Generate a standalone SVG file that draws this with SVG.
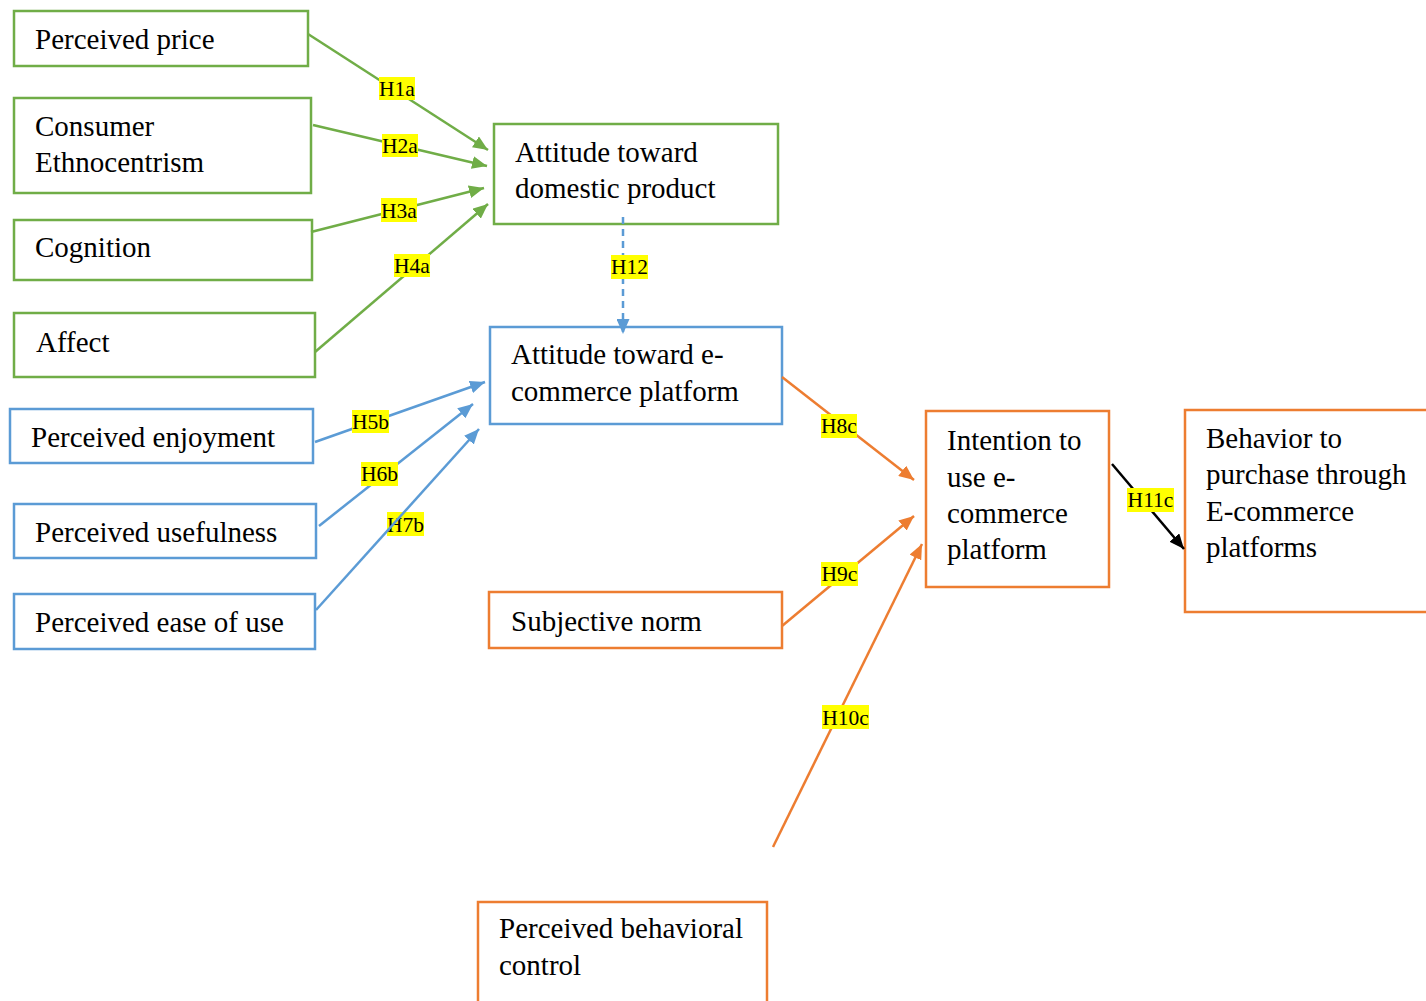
<svg xmlns="http://www.w3.org/2000/svg" width="1426" height="1001" viewBox="0 0 1426 1001">
  <style>
    .box { fill: #ffffff; stroke-width: 2.5; }
    .g { stroke: #70AD47; }
    .b { stroke: #5B9BD5; }
    .o { stroke: #ED7D31; }
    text { font-family: 'Liberation Serif', 'DejaVu Serif', serif; }
    .t { font-size: 29px; fill: #000000; }
    .lbl rect { fill: #FFFF00; }
    .lbl text { font-size: 21.5px; fill: #000000; text-anchor: middle; }
    .ln { fill: none; stroke-width: 2.5; }
  </style>
  <defs>
    <marker id="ah-g" markerUnits="userSpaceOnUse" markerWidth="15" markerHeight="13" refX="15" refY="6.5" orient="auto">
      <path d="M0,0 L15,6.5 L0,13 z" fill="#70AD47"/>
    </marker>
    <marker id="ah-b" markerUnits="userSpaceOnUse" markerWidth="15" markerHeight="13" refX="15" refY="6.5" orient="auto">
      <path d="M0,0 L15,6.5 L0,13 z" fill="#5B9BD5"/>
    </marker>
    <marker id="ah-o" markerUnits="userSpaceOnUse" markerWidth="15" markerHeight="13" refX="15" refY="6.5" orient="auto">
      <path d="M0,0 L15,6.5 L0,13 z" fill="#ED7D31"/>
    </marker>
    <marker id="ah-k" markerUnits="userSpaceOnUse" markerWidth="15" markerHeight="13" refX="15" refY="6.5" orient="auto">
      <path d="M0,0 L15,6.5 L0,13 z" fill="#000000"/>
    </marker>
  </defs>

  <rect width="1426" height="1001" fill="#ffffff"/>

  <g font-family="Liberation Serif, serif">
  <!-- antecedents of attitude toward domestic product -->
  <g id="perceived-price">
    <rect class="box g" x="14" y="11" width="294" height="55"/>
    <text class="t" x="35" y="49">Perceived price</text>
  </g>
  <g id="consumer-ethnocentrism">
    <rect class="box g" x="14" y="98" width="297" height="95"/>
    <text class="t" x="35" y="136">Consumer</text>
    <text class="t" x="35" y="172">Ethnocentrism</text>
  </g>
  <g id="cognition">
    <rect class="box g" x="14" y="220" width="298" height="60"/>
    <text class="t" x="35" y="257">Cognition</text>
  </g>
  <g id="affect">
    <rect class="box g" x="14" y="313" width="301" height="64"/>
    <text class="t" x="36" y="352">Affect</text>
  </g>

  <!-- antecedents of attitude toward e-commerce platform -->
  <g id="perceived-enjoyment">
    <rect class="box b" x="10" y="409" width="303" height="54"/>
    <text class="t" x="31" y="447">Perceived enjoyment</text>
  </g>
  <g id="perceived-usefulness">
    <rect class="box b" x="14" y="504" width="302" height="54"/>
    <text class="t" x="35" y="542">Perceived usefulness</text>
  </g>
  <g id="perceived-ease-of-use">
    <rect class="box b" x="14" y="594" width="301" height="55"/>
    <text class="t" x="35" y="632">Perceived ease of use</text>
  </g>

  <!-- attitudes -->
  <g id="attitude-domestic">
    <rect class="box g" x="494" y="124" width="284" height="100"/>
    <text class="t" x="515" y="162">Attitude toward</text>
    <text class="t" x="515" y="198">domestic product</text>
  </g>
  <g id="attitude-ecommerce">
    <rect class="box b" x="490" y="327" width="292" height="97"/>
    <text class="t" x="511" y="364">Attitude toward e-</text>
    <text class="t" x="511" y="401">commerce platform</text>
  </g>

  <!-- TPB constructs -->
  <g id="subjective-norm">
    <rect class="box o" x="489" y="592" width="293" height="56"/>
    <text class="t" x="511" y="631">Subjective norm</text>
  </g>
  <g id="perceived-behavioral-control">
    <rect class="box o" x="478" y="902" width="289" height="120"/>
    <text class="t" x="499" y="938">Perceived behavioral</text>
    <text class="t" x="499" y="975">control</text>
  </g>
  <g id="intention">
    <rect class="box o" x="926" y="411" width="183" height="176"/>
    <text class="t" x="947" y="450">Intention to</text>
    <text class="t" x="947" y="487">use e-</text>
    <text class="t" x="947" y="523">commerce</text>
    <text class="t" x="947" y="559">platform</text>
  </g>
  <g id="behavior">
    <rect class="box o" x="1185" y="410" width="262" height="202"/>
    <text class="t" x="1206" y="448">Behavior to</text>
    <text class="t" x="1206" y="484">purchase through</text>
    <text class="t" x="1206" y="521">E-commerce</text>
    <text class="t" x="1206" y="557">platforms</text>
  </g>

  <!-- connectors and hypothesis labels -->
  <g id="connectors">
    <line class="ln g" x1="308" y1="34" x2="488" y2="150" stroke="#70AD47" marker-end="url(#ah-g)"/>
    <line class="ln g" x1="313" y1="125" x2="487" y2="166" stroke="#70AD47" marker-end="url(#ah-g)"/>
    <line class="ln g" x1="311" y1="232" x2="484" y2="188" stroke="#70AD47" marker-end="url(#ah-g)"/>
    <line class="ln g" x1="315" y1="352" x2="488" y2="204" stroke="#70AD47" marker-end="url(#ah-g)"/>

    <line class="ln b" x1="623" y1="217" x2="623" y2="334" stroke="#5B9BD5" stroke-dasharray="7 5" marker-end="url(#ah-b)"/>
    <line class="ln b" x1="315" y1="442" x2="485" y2="382" stroke="#5B9BD5" marker-end="url(#ah-b)"/>
    <line class="ln b" x1="319" y1="526" x2="473" y2="404" stroke="#5B9BD5" marker-end="url(#ah-b)"/>

    <line class="ln o" x1="782" y1="377" x2="914" y2="480" stroke="#ED7D31" marker-end="url(#ah-o)"/>
    <line class="ln o" x1="782" y1="626" x2="914" y2="516" stroke="#ED7D31" marker-end="url(#ah-o)"/>
    <line class="ln o" x1="773" y1="847" x2="922" y2="544" stroke="#ED7D31" marker-end="url(#ah-o)"/>

    <line class="ln" x1="1112" y1="464" x2="1184" y2="549" stroke="#000000" marker-end="url(#ah-k)"/>

    <g class="lbl">
      <rect x="379" y="77" width="36" height="23"/><text x="397" y="96">H1a</text>
      <rect x="382" y="134" width="36" height="23"/><text x="400" y="153">H2a</text>
      <rect x="381" y="198" width="36" height="24"/><text x="399" y="218">H3a</text>
      <rect x="394" y="254" width="36" height="23"/><text x="412" y="273">H4a</text>
      <rect x="611" y="255" width="37" height="24"/><text x="629.5" y="274">H12</text>
      <rect x="352" y="410" width="37" height="23"/><text x="370.5" y="429">H5b</text>
      <rect x="361" y="462" width="37" height="24"/><text x="379.5" y="481">H6b</text>
      <rect x="387" y="512" width="37" height="24"/><text x="405.5" y="532">H7b</text>
      <rect x="821" y="414" width="36" height="24"/><text x="839" y="433">H8c</text>
      <rect x="821" y="562" width="37" height="24"/><text x="839.5" y="581">H9c</text>
      <rect x="822" y="705" width="47" height="24"/><text x="845.5" y="725">H10c</text>
      <rect x="1127" y="488" width="47" height="24"/><text x="1150.5" y="507">H11c</text>
    </g>

    <!-- this one runs across its own label -->
    <line class="ln b" x1="316" y1="610" x2="479" y2="429" stroke="#5B9BD5" marker-end="url(#ah-b)"/>
  </g>
  </g>
</svg>
